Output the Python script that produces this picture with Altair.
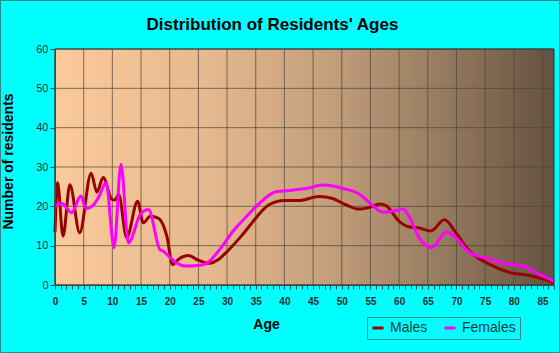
import altair as alt
import pandas as pd

# ---- data ----
male_age = [0, 0.45, 1.4, 2.6, 4.3, 6.3, 7.3, 8.4, 9.9, 10.4, 11.1, 12.5, 14.4, 15.4, 16.6, 18, 19.5,
            20.5, 21.5, 23.2, 25, 26.7, 28.5, 30, 32.7, 35, 37.3, 40, 42.6, 46, 48.4, 50.7, 53, 55,
            56.6, 57.7, 60, 61.7, 63.5, 65.5, 67.9, 69.9, 72.2, 75.7, 79.2, 82.8, 85, 87]
male_val = [13.4, 26, 12.4, 25.5, 13.3, 28.4, 23.6, 27.3, 21.8, 21.6, 23, 12, 21.3, 15.8, 17.5, 17, 12.4,
            5.2, 6.5, 7.5, 6.3, 5.5, 6.5, 8.5, 12.8, 17, 20.4, 21.5, 21.5, 22.5, 22, 20.4, 19.3, 19.8,
            20.6, 20.2, 16.2, 14.8, 14.5, 13.7, 16.6, 13.3, 8.7, 5.3, 3.2, 2.4, 1.6, 0.7]

female_age = [0, 1.2, 2.9, 4.5, 5.4, 6.6, 7.7, 8.9, 10.3, 11.5, 12.8, 14.9, 16.3, 18.3, 18.9, 20.1,
              21, 23, 25.3, 26.7, 28.7, 31, 33.9, 35.6, 38.5, 41.4, 44, 46.6, 50.1, 53.3, 55.2, 57.2,
              59, 60.7, 61.7, 63.5, 65.7, 68.2, 69.9, 72.2, 75.7, 79.2, 81.5, 83.8, 87]
female_val = [20, 20.7, 18.4, 22.6, 19.4, 20.2, 22.6, 26, 9.5, 30.7, 10.7, 18, 19.2, 9, 8.6, 6.9,
              5.8, 4.8, 5, 5.8, 9, 13.6, 18.2, 20.7, 23.7, 24.1, 24.6, 25.4, 24.6, 22.9, 20.4, 18.5,
              18.8, 19.3, 17.5, 12, 9.5, 13.5, 12, 8.3, 6.6, 5.3, 4.9, 3.2, 1]

series = ["Males", "Females"]
series_colors = ["#990000", "#ff00ff"]
x_grid = [0, 5, 10, 15, 20, 25, 30, 35, 40, 45, 50, 55, 60, 65, 70, 75, 80, 85]
y_grid = [0, 10, 20, 30, 40, 50, 60]
x_ticks = list(range(0, 88))

df = pd.concat([
    pd.DataFrame({"age": male_age, "n": male_val, "sex": "Males"}),
    pd.DataFrame({"age": female_age, "n": female_val, "sex": "Females"}),
])

FONT = "Liberation Sans"
xs = alt.Scale(domain=[0, 87], nice=False, zero=False)
ys = alt.Scale(domain=[0, 60], nice=False)

ax_x = alt.Axis(values=x_ticks, grid=False, zindex=1,
                labelExpr="datum.value % 5 === 0 ? datum.label : ''",
                labelOverlap=False, labelFlush=False,
                tickSize=4, labelPadding=7, labelFontSize=10, labelFontWeight="bold",
                titleX=211, titleY=43, titleBaseline="alphabetic", titleFontSize=14)
ax_y = alt.Axis(values=y_grid, grid=False, zindex=1, tickSize=5, labelPadding=2,
                labelOverlap=False, labelFlush=False,
                labelFontSize=11, titleX=-40, titleY=112, titleFontSize=14)
XT = "Age"
YT = "Number of residents"

bg = alt.Chart().mark_rect(
    color=alt.LinearGradient(
        gradient="linear",
        stops=[
            alt.GradientStop(color="#fbca9b", offset=0),
            alt.GradientStop(color="#e6b98e", offset=0.3),
            alt.GradientStop(color="#c39f7c", offset=0.55),
            alt.GradientStop(color="#957a5e", offset=0.78),
            alt.GradientStop(color="#655140", offset=1),
        ],
        x1=0, x2=1, y1=0, y2=0,
    )
).encode(x=alt.X(datum=0, scale=xs, axis=ax_x, title=XT), x2=alt.datum(87),
         y=alt.Y(datum=0, scale=ys, axis=ax_y, title=YT), y2=alt.datum(60))

vgrid = alt.Chart(pd.DataFrame({"g": x_grid})).mark_rule(color="#4d4439", strokeWidth=1, opacity=0.7).encode(
    x=alt.X("g:Q", scale=xs, axis=ax_x, title=XT)
)
hgrid = alt.Chart(pd.DataFrame({"g": y_grid})).mark_rule(color="#4d4439", strokeWidth=1, opacity=0.7).encode(
    y=alt.Y("g:Q", scale=ys, axis=ax_y, title=YT)
)

lines = alt.Chart(df).mark_line(interpolate="monotone", strokeWidth=3).encode(
    x=alt.X("age:Q", scale=xs, title=XT, axis=ax_x),
    y=alt.Y("n:Q", scale=ys, title=YT, axis=ax_y),
    color=alt.Color("sex:N", scale=alt.Scale(domain=series, range=series_colors),
                    legend=alt.Legend(title=None, orient="none", legendX=312, legendY=268,
                                      direction="horizontal", strokeColor="#2a8a8a", padding=4,
                                      symbolType="stroke", symbolStrokeWidth=3, symbolSize=120,
                                      labelFontSize=14, labelColor="#1a3a3a", columnPadding=10,
                                      labelOffset=5)),
    order=alt.Order("age:Q"),
)

frame = alt.Chart().mark_rect(fill=None, stroke="#333333", strokeWidth=1).encode(
    x=alt.X(datum=0, scale=xs, axis=ax_x, title=XT), x2=alt.datum(87),
    y=alt.Y(datum=0, scale=ys, axis=ax_y, title=YT), y2=alt.datum(60)
)

outer = alt.Chart().mark_rect(fill=None, stroke="#2a8a8a", strokeWidth=1).encode(
    x=alt.value(-54.5), x2=alt.value(504.5), y=alt.value(-48.5), y2=alt.value(303.5)
)

chart = alt.layer(bg, vgrid, hgrid, lines, frame, outer).properties(
    width=499, height=236,
    padding={"left": 55, "top": 49, "right": 6, "bottom": 68},
    autosize="none",
    background="#00ffff",
    title=alt.Title("Distribution of Residents' Ages", fontSize=17, font=FONT, fontWeight="bold",
                    color="#000000", anchor="middle", dx=-32, dy=65, offset=18, baseline="alphabetic"),
).configure_view(stroke=None).configure_axis(
    labelFont=FONT, titleFont=FONT, labelColor="#1f2f2f", titleColor="#000000",
    domainColor="#2f4f4f", tickColor="#2f4f4f", titleFontWeight="bold",
).configure_legend(labelFont=FONT)

chart.save("out.html", embed_options={"renderer": "svg", "actions": False})
